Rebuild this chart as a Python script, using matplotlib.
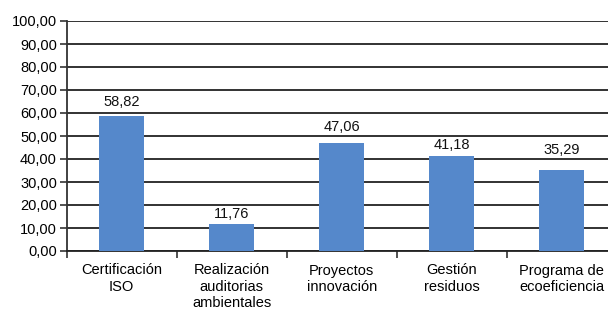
import matplotlib
matplotlib.use("Agg")
import matplotlib.pyplot as plt
from matplotlib.ticker import FixedLocator, FuncFormatter

categories = ["Certificación\nISO", "Realización\nauditorias\nambientales",
              "Proyectos\ninnovación", "Gestión\nresiduos", "Programa de\necoeficiencia"]
values = [58.82, 11.76, 47.06, 41.18, 35.29]
yticks = [0, 10, 20, 30, 40, 50, 60, 70, 80, 90, 100]

# label gap above each bar (points) as placed in the original
label_gap_pt = [4.7, 1.8, 6.1, 3.2, 9.0]

plt.rcParams['font.family'] = ['Liberation Sans', 'DejaVu Sans']

fig = plt.figure(figsize=(6.08, 3.10), dpi=100)
W, H = 608, 310
left, right, top, bottom = 66.7, 616.7, 21, 251
ax = fig.add_axes([left / W, (H - bottom) / H, (right - left) / W, (bottom - top) / H])

x = list(range(len(categories)))
bars = ax.bar(x, values, width=0.41, color="#5588CB", zorder=3)
for xi, v, g in zip(x, values, label_gap_pt):
    ax.annotate(f"{v:.2f}".replace(".", ","), xy=(xi, v), xytext=(0, g),
                textcoords="offset points", ha="center", va="bottom",
                fontsize=10.5, color="#111111")

ax.set_xlim(-0.5, len(categories) - 0.5)
ax.set_ylim(0, 100)
ax.set_yticks(yticks)
ax.yaxis.set_major_formatter(FuncFormatter(lambda v, p: f"{v:.2f}".replace(".", ",")))
ax.yaxis.grid(True, color="#222222", linewidth=1.3, zorder=0)
ax.set_axisbelow(True)

ax.xaxis.set_major_locator(FixedLocator([i - 0.5 for i in range(len(categories) + 1)]))
ax.xaxis.set_major_formatter(FuncFormatter(lambda v, p: ""))
ax.xaxis.set_minor_locator(FixedLocator(x))
ax.set_xticklabels(categories, minor=True, linespacing=1.2)
ax.tick_params(axis="x", which="minor", length=0, pad=9, labelsize=10.5)
ax.tick_params(axis="x", which="major", length=5, width=1.2, color="#333333", direction="out")
ax.tick_params(axis="y", length=5, width=1.2, color="#333333", labelsize=10.5, pad=2)

for s in ["top", "right"]:
    ax.spines[s].set_visible(False)
ax.spines["left"].set_color("#333333")
ax.spines["left"].set_linewidth(1.3)
ax.spines["bottom"].set_color("#222222")
ax.spines["bottom"].set_linewidth(1.3)

fig.savefig("out.png", dpi=100)
